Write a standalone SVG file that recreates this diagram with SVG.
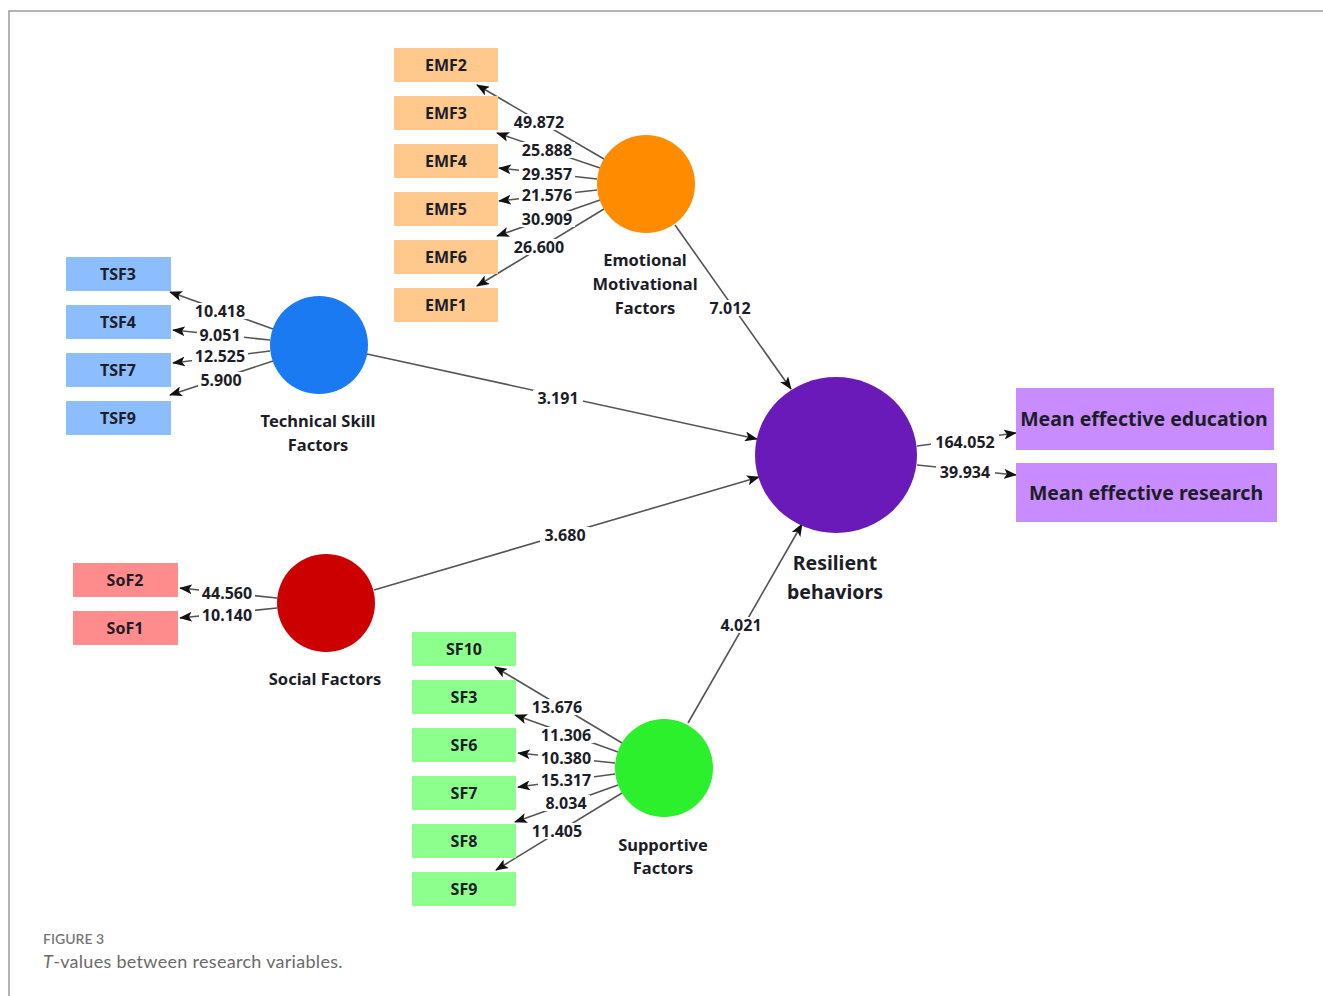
<svg xmlns="http://www.w3.org/2000/svg" width="1323" height="996" viewBox="0 0 1323 996">
<style>
.frame{stroke:#9a9a9a;stroke-width:1.5;fill:none}
.ln{stroke:#555;stroke-width:1.6;fill:none}
.arr{marker-end:url(#ah)}
.lbl{font-family:"Noto Sans","Open Sans",sans-serif;font-weight:700;font-size:16px;fill:#1d1d28;text-anchor:middle}
.bg{fill:#fff}
.box-t{font-family:"Noto Sans","Open Sans",sans-serif;font-weight:700;font-size:16px;fill:#1d1d28;text-anchor:middle}
.node-t{font-family:"Noto Sans","Open Sans",sans-serif;font-weight:700;font-size:16.5px;fill:#1d1d28;text-anchor:middle}
.big-t{font-family:"Noto Sans","Open Sans",sans-serif;font-weight:700;font-size:19.5px;fill:#1d1d28;text-anchor:middle}
.emf{fill:#ffc88c}.tsf{fill:#8cbeff}.sof{fill:#ff8c8c}.sf{fill:#8cff8c}.mean{fill:#c88cff}
.cap1{font-family:Lato,"Open Sans",sans-serif;font-weight:600;font-size:14px;fill:#777}
.cap2{font-family:Lato,"Open Sans",sans-serif;font-weight:400;font-size:18px;fill:#6a6a6a;letter-spacing:0.3px}
</style>
<defs>
<marker id="ah" markerUnits="userSpaceOnUse" markerWidth="13" markerHeight="10" viewBox="0 0 13 10" refX="12" refY="5" orient="auto">
<path d="M0,0 L13,5 L0,10 L3,5 z" fill="#111"/>
</marker>
</defs>
<rect width="1323" height="996" fill="#fff"/>
<path class="frame" d="M9,996 V11 H1323"/>

<g id="connectors">
<line class="ln arr" x1="604" y1="159" x2="477" y2="85"/>
<line class="ln arr" x1="600" y1="168" x2="497" y2="133"/>
<line class="ln arr" x1="597" y1="179" x2="499" y2="168"/>
<line class="ln arr" x1="597" y1="190" x2="499" y2="201"/>
<line class="ln arr" x1="600" y1="200" x2="497" y2="236"/>
<line class="ln arr" x1="604" y1="209" x2="477" y2="286"/>
<line class="ln arr" x1="273" y1="329" x2="170" y2="292"/>
<line class="ln arr" x1="270" y1="340" x2="173" y2="330"/>
<line class="ln arr" x1="270" y1="351" x2="173" y2="363"/>
<line class="ln arr" x1="273" y1="361" x2="170" y2="395"/>
<line class="ln arr" x1="277" y1="598" x2="180" y2="588"/>
<line class="ln arr" x1="277" y1="608" x2="180" y2="618"/>
<line class="ln arr" x1="622" y1="743" x2="495" y2="667"/>
<line class="ln arr" x1="618" y1="752" x2="515" y2="715"/>
<line class="ln arr" x1="615" y1="763" x2="518" y2="753"/>
<line class="ln arr" x1="615" y1="774" x2="518" y2="787"/>
<line class="ln arr" x1="618" y1="785" x2="515" y2="822"/>
<line class="ln arr" x1="622" y1="793" x2="496" y2="870"/>
<line class="ln arr" x1="675" y1="225" x2="791" y2="389"/>
<line class="ln arr" x1="367" y1="354" x2="757" y2="439"/>
<line class="ln arr" x1="374" y1="590" x2="759" y2="477"/>
<line class="ln arr" x1="688" y1="723" x2="802" y2="524"/>
<line class="ln arr" x1="917" y1="446" x2="1016" y2="433"/>
<line class="ln arr" x1="917" y1="465" x2="1016" y2="475"/>
</g>

<g id="labels">
<rect class="bg" x="511" y="114" width="56" height="16"/><text class="lbl" x="539" y="128">49.872</text>
<rect class="bg" x="519" y="142" width="56" height="16"/><text class="lbl" x="547" y="156">25.888</text>
<rect class="bg" x="519" y="166" width="56" height="16"/><text class="lbl" x="547" y="180">29.357</text>
<rect class="bg" x="519" y="187" width="56" height="16"/><text class="lbl" x="547" y="201">21.576</text>
<rect class="bg" x="519" y="211" width="56" height="16"/><text class="lbl" x="547" y="225">30.909</text>
<rect class="bg" x="511" y="239" width="56" height="16"/><text class="lbl" x="539" y="253">26.600</text>

<rect class="bg" x="192" y="303" width="56" height="16"/><text class="lbl" x="220" y="317">10.418</text>
<rect class="bg" x="197" y="327" width="47" height="15"/><text class="lbl" x="220" y="341">9.051</text>
<rect class="bg" x="192" y="348" width="56" height="15"/><text class="lbl" x="220" y="362">12.525</text>
<rect class="bg" x="198" y="372" width="47" height="16"/><text class="lbl" x="221" y="386">5.900</text>

<rect class="bg" x="199" y="585" width="56" height="15"/><text class="lbl" x="227" y="599">44.560</text>
<rect class="bg" x="199" y="607" width="56" height="16"/><text class="lbl" x="227" y="621">10.140</text>

<rect class="bg" x="529" y="699" width="56" height="16"/><text class="lbl" x="557" y="713">13.676</text>
<rect class="bg" x="538" y="727" width="56" height="16"/><text class="lbl" x="566" y="741">11.306</text>
<rect class="bg" x="538" y="750" width="56" height="16"/><text class="lbl" x="566" y="764">10.380</text>
<rect class="bg" x="538" y="772" width="56" height="16"/><text class="lbl" x="566" y="786">15.317</text>
<rect class="bg" x="543" y="795" width="47" height="16"/><text class="lbl" x="566" y="809">8.034</text>
<rect class="bg" x="529" y="823" width="56" height="16"/><text class="lbl" x="557" y="837">11.405</text>

<rect class="bg" x="706" y="300" width="48" height="16"/><text class="lbl" x="730" y="314">7.012</text>
<rect class="bg" x="533" y="390" width="50" height="16"/><text class="lbl" x="558" y="404">3.191</text>
<rect class="bg" x="540" y="527" width="50" height="16"/><text class="lbl" x="565" y="541">3.680</text>
<rect class="bg" x="716" y="617" width="50" height="16"/><text class="lbl" x="741" y="631">4.021</text>
<rect class="bg" x="931" y="434" width="68" height="16"/><text class="lbl" x="965" y="448">164.052</text>
<rect class="bg" x="936" y="464" width="59" height="16"/><text class="lbl" x="965" y="478">39.934</text>
</g>

<g id="EMF">
<rect class="emf" x="394" y="48" width="104" height="34"/><text class="box-t" x="446" y="71">EMF2</text>
<rect class="emf" x="394" y="96" width="104" height="34"/><text class="box-t" x="446" y="119">EMF3</text>
<rect class="emf" x="394" y="144" width="104" height="34"/><text class="box-t" x="446" y="167">EMF4</text>
<rect class="emf" x="394" y="192" width="104" height="34"/><text class="box-t" x="446" y="215">EMF5</text>
<rect class="emf" x="394" y="240" width="104" height="34"/><text class="box-t" x="446" y="263">EMF6</text>
<rect class="emf" x="394" y="288" width="104" height="34"/><text class="box-t" x="446" y="311">EMF1</text>
</g>
<g id="EmotionalMotivational">
<circle cx="646" cy="184" r="49" fill="#ff8c00"/>
<text class="node-t" x="645" y="266">Emotional</text>
<text class="node-t" x="645" y="290">Motivational</text>
<text class="node-t" x="645" y="314">Factors</text>
</g>

<g id="TSF">
<rect class="tsf" x="66" y="257" width="105" height="34"/><text class="box-t" x="118" y="280">TSF3</text>
<rect class="tsf" x="66" y="305" width="105" height="34"/><text class="box-t" x="118" y="328">TSF4</text>
<rect class="tsf" x="66" y="353" width="105" height="34"/><text class="box-t" x="118" y="376">TSF7</text>
<rect class="tsf" x="66" y="401" width="105" height="34"/><text class="box-t" x="118" y="424">TSF9</text>
</g>
<g id="TechnicalSkill">
<circle cx="319" cy="345" r="49" fill="#1a7af2"/>
<text class="node-t" x="318" y="427">Technical Skill</text>
<text class="node-t" x="318" y="451">Factors</text>
</g>

<g id="SoF">
<rect class="sof" x="73" y="563" width="105" height="34"/><text class="box-t" x="125" y="586">SoF2</text>
<rect class="sof" x="73" y="611" width="105" height="34"/><text class="box-t" x="125" y="634">SoF1</text>
</g>
<g id="Social">
<circle cx="326" cy="603" r="49" fill="#cc0000"/>
<text class="node-t" x="325" y="685">Social Factors</text>
</g>

<g id="SF">
<rect class="sf" x="412" y="632" width="104" height="34"/><text class="box-t" x="464" y="655">SF10</text>
<rect class="sf" x="412" y="680" width="104" height="34"/><text class="box-t" x="464" y="703">SF3</text>
<rect class="sf" x="412" y="728" width="104" height="34"/><text class="box-t" x="464" y="751">SF6</text>
<rect class="sf" x="412" y="776" width="104" height="34"/><text class="box-t" x="464" y="799">SF7</text>
<rect class="sf" x="412" y="824" width="104" height="34"/><text class="box-t" x="464" y="847">SF8</text>
<rect class="sf" x="412" y="872" width="104" height="34"/><text class="box-t" x="464" y="895">SF9</text>
</g>
<g id="Supportive">
<circle cx="664" cy="768" r="49" fill="#2cf02c"/>
<text class="node-t" x="663" y="851">Supportive</text>
<text class="node-t" x="663" y="874">Factors</text>
</g>

<g id="Resilient">
<ellipse cx="836" cy="455" rx="81" ry="78" fill="#6a1ab8"/>
<text class="big-t" x="835" y="570">Resilient</text>
<text class="big-t" x="835" y="599">behaviors</text>
</g>

<g id="MeanEducation">
<rect class="mean" x="1016" y="388" width="258" height="62"/>
<text class="big-t" x="1144" y="426">Mean effective education</text>
</g>
<g id="MeanResearch">
<rect class="mean" x="1016" y="463" width="261" height="59"/>
<text class="big-t" x="1146" y="500">Mean effective research</text>
</g>

<g id="caption">
<text class="cap1" x="43" y="944">FIGURE 3</text>
<text class="cap2" x="43" y="968"><tspan font-style="italic">T</tspan>-values between research variables.</text>
</g>
</svg>
